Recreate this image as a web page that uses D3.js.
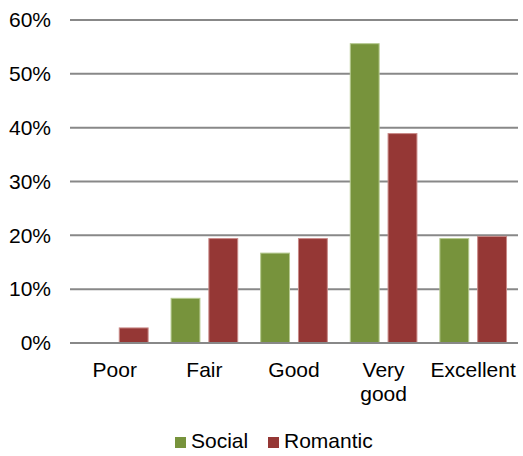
<!DOCTYPE html>
<html>
<head>
<meta charset="utf-8">
<script src="https://cdn.jsdelivr.net/npm/d3@7"></script>
<style>
  html, body { margin: 0; padding: 0; background: #fff; }
  svg { display: block; font-family: "Liberation Sans", Arial, sans-serif; }
</style>
</head>
<body>
<svg id="chart" width="523" height="456"></svg>
<script>
// Rating categories and the share of responses for each series (percent)
const categories = ["Poor", "Fair", "Good", "Very good", "Excellent"];
const categoryLines = [["Poor"], ["Fair"], ["Good"], ["Very", "good"], ["Excellent"]];
const seriesNames = ["Social", "Romantic"];
const socialValues = [0, 8.3, 16.7, 55.6, 19.4];
const romanticValues = [2.8, 19.4, 19.4, 38.9, 19.8];
const yTicks = [0, 10, 20, 30, 40, 50, 60];
const colors = ["#77933C", "#953735"];
const edgeColors = ["#b5c98f", "#c98a88"];

const svg = d3.select("#chart");
const margin = { left: 70, right: 5, top: 20, bottom: 113 };
const width = 523, height = 456;

const x = d3.scaleBand()
  .domain(categories)
  .range([margin.left, width - margin.right])
  .paddingInner(0.245)
  .paddingOuter(0.1225);

const x1 = d3.scaleBand()
  .domain(seriesNames)
  .range([0, x.bandwidth()])
  .paddingInner(0.21);

const y = d3.scaleLinear()
  .domain([0, 60])
  .range([height - margin.bottom, margin.top]);

// Horizontal gridlines and percent labels
const yAxis = d3.axisLeft(y)
  .tickValues(yTicks)
  .tickFormat(d => d + "%")
  .tickSize(0)
  .tickPadding(19);

const gy = svg.append("g")
  .attr("transform", `translate(${margin.left},0)`)
  .call(yAxis);
gy.select(".domain").remove();
gy.selectAll("text")
  .attr("font-size", 21)
  .attr("fill", "#000")
  .attr("font-family", "Liberation Sans, Arial, sans-serif");

svg.append("g")
  .selectAll("line")
  .data(yTicks)
  .join("line")
  .attr("x1", margin.left)
  .attr("x2", width - margin.right)
  .attr("y1", d => y(d))
  .attr("y2", d => y(d))
  .attr("stroke", "#888888")
  .attr("stroke-width", 2);

// Grouped bars
const rows = categories.map((c, i) => ({
  category: c,
  values: [
    { series: "Social", value: socialValues[i], idx: 0 },
    { series: "Romantic", value: romanticValues[i], idx: 1 }
  ]
}));

svg.append("g")
  .selectAll("g")
  .data(rows)
  .join("g")
  .attr("transform", d => `translate(${x(d.category)},0)`)
  .selectAll("rect")
  .data(d => d.values.filter(v => v.value > 0))
  .join("rect")
  .attr("x", d => x1(d.series) + 0.5)
  .attr("width", x1.bandwidth() - 1)
  .attr("y", d => y(d.value))
  .attr("height", d => y(0) - y(d.value))
  .attr("fill", d => colors[d.idx])
  .attr("stroke", d => edgeColors[d.idx])
  .attr("stroke-width", 1);

// Baseline
svg.append("line")
  .attr("x1", margin.left)
  .attr("x2", width - margin.right)
  .attr("y1", y(0))
  .attr("y2", y(0))
  .attr("stroke", "#888888")
  .attr("stroke-width", 2);

// Category labels (wrapped onto two lines where needed)
const xl = svg.append("g")
  .selectAll("text")
  .data(categories)
  .join("text")
  .attr("x", d => x(d) + x.bandwidth() / 2)
  .attr("y", 377)
  .attr("text-anchor", "middle")
  .attr("font-size", 21)
  .attr("fill", "#000");
xl.each(function(d, i) {
  d3.select(this).selectAll("tspan")
    .data(categoryLines[i])
    .join("tspan")
    .attr("x", x(d) + x.bandwidth() / 2)
    .attr("dy", (t, j) => j === 0 ? 0 : 24)
    .text(t => t);
});

// Legend
const legendItems = [
  { name: "Social", sx: 175, tx: 191 },
  { name: "Romantic", sx: 268, tx: 284 }
];
const lg = svg.append("g");
lg.selectAll("rect")
  .data(legendItems)
  .join("rect")
  .attr("x", d => d.sx)
  .attr("y", 437)
  .attr("width", 11)
  .attr("height", 11)
  .attr("fill", (d, i) => colors[i]);
lg.selectAll("text")
  .data(legendItems)
  .join("text")
  .attr("x", d => d.tx)
  .attr("y", 448)
  .attr("font-size", 21)
  .attr("fill", "#000")
  .text(d => d.name);
</script>
</body>
</html>
